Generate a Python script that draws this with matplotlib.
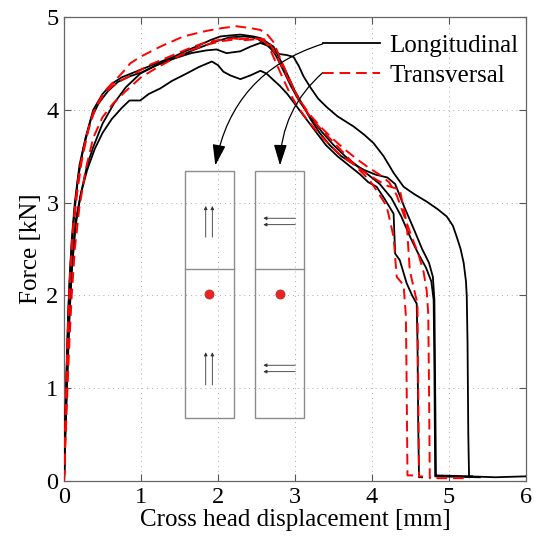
import numpy as np
import matplotlib
matplotlib.use("Agg")
import matplotlib.pyplot as plt
from matplotlib.patches import Rectangle, FancyArrowPatch

plt.rcParams['font.family'] = ['Liberation Serif', 'DejaVu Serif']

# force-displacement curves, longitudinal specimens
long_1 = [(0, 0), (0.02, 0.6), (0.04, 1.1), (0.07, 1.8), (0.1, 2.3), (0.15, 2.8), (0.22, 3.1),
          (0.3, 3.35), (0.4, 3.58), (0.5, 3.75), (0.62, 3.9), (0.75, 4.02), (0.85, 4.1),
          (0.99, 4.1), (1.1, 4.17), (1.25, 4.23), (1.4, 4.31), (1.59, 4.39), (1.75, 4.46),
          (1.92, 4.52), (2.0, 4.48), (2.07, 4.41), (2.16, 4.37), (2.29, 4.33), (2.42, 4.37),
          (2.55, 4.42), (2.63, 4.39), (2.72, 4.32), (2.8, 4.26), (2.9, 4.17), (3.0, 4.06),
          (3.1, 3.95), (3.2, 3.84), (3.3, 3.73), (3.4, 3.62), (3.55, 3.5), (3.7, 3.4),
          (3.85, 3.3), (3.95, 3.22), (4.06, 3.17), (4.17, 3.03), (4.28, 2.88), (4.30, 2.45),
          (4.36, 2.38), (4.45, 2.13), (4.52, 2.0), (4.58, 1.91), (4.59, 1.5), (4.60, 0.6),
          (4.61, 0.04), (4.65, 0.04)]
long_2 = [(0, 0), (0.02, 0.55), (0.04, 1.05), (0.07, 1.75), (0.1, 2.25), (0.15, 2.75), (0.22, 3.1),
          (0.3, 3.4), (0.38, 3.6), (0.5, 3.85), (0.65, 4.07), (0.8, 4.24), (0.99, 4.39),
          (1.2, 4.48), (1.42, 4.55), (1.65, 4.61), (1.85, 4.64), (1.98, 4.65), (2.11, 4.61),
          (2.29, 4.63), (2.42, 4.68), (2.55, 4.72), (2.68, 4.68), (2.76, 4.57), (2.85, 4.42),
          (2.95, 4.25), (3.05, 4.1), (3.2, 3.92), (3.35, 3.76), (3.5, 3.62), (3.65, 3.5),
          (3.8, 3.4), (3.95, 3.3), (4.1, 3.2), (4.25, 3.05), (4.38, 2.85), (4.5, 2.62),
          (4.6, 2.45), (4.7, 2.3), (4.77, 2.15), (4.8, 1.95), (4.81, 1.2), (4.82, 0.05),
          (5.4, 0.04)]
long_3 = [(0, 0), (0.015, 0.6), (0.03, 1.1), (0.05, 1.7), (0.07, 2.15), (0.1, 2.6), (0.14, 3.0),
          (0.2, 3.4), (0.28, 3.7), (0.38, 4.0), (0.5, 4.17), (0.62, 4.28), (0.75, 4.35),
          (0.9, 4.4), (1.05, 4.45), (1.2, 4.5), (1.42, 4.57), (1.6, 4.64), (1.77, 4.7),
          (1.9, 4.75), (2.03, 4.79), (2.15, 4.8), (2.29, 4.81), (2.46, 4.79), (2.56, 4.77),
          (2.63, 4.73), (2.72, 4.68), (2.8, 4.55), (2.9, 4.38), (3.0, 4.2), (3.1, 4.05),
          (3.2, 3.9), (3.32, 3.75), (3.45, 3.62), (3.6, 3.5), (3.75, 3.42), (3.9, 3.35),
          (4.05, 3.3), (4.2, 3.27), (4.3, 3.2), (4.42, 2.95), (4.55, 2.7), (4.65, 2.5),
          (4.74, 2.35), (4.79, 2.2), (4.81, 1.95), (4.82, 1.0), (4.83, 0.06), (5.3, 0.05)]
long_4 = [(0, 0), (0.02, 0.75), (0.04, 1.35), (0.06, 1.9), (0.09, 2.4), (0.13, 2.85), (0.18, 3.25),
          (0.25, 3.58), (0.35, 3.9), (0.45, 4.07), (0.57, 4.2), (0.7, 4.3), (0.85, 4.36),
          (1.0, 4.4), (1.2, 4.48), (1.45, 4.56), (1.7, 4.65), (1.95, 4.73), (2.15, 4.78),
          (2.35, 4.79), (2.5, 4.77), (2.63, 4.7), (2.72, 4.63), (2.8, 4.6), (2.89, 4.59),
          (2.98, 4.57), (3.05, 4.47), (3.11, 4.36), (3.2, 4.24), (3.3, 4.12), (3.41, 4.03),
          (3.55, 3.93), (3.76, 3.82), (3.9, 3.73), (4.02, 3.64), (4.15, 3.5), (4.28, 3.32),
          (4.41, 3.17), (4.55, 3.09), (4.71, 3.01), (4.85, 2.93), (4.97, 2.85), (5.05, 2.75),
          (5.1, 2.63), (5.15, 2.5), (5.19, 2.35), (5.22, 2.15), (5.23, 1.99), (5.24, 1.5),
          (5.25, 0.5), (5.26, 0.05), (5.6, 0.04), (6.0, 0.05)]

# force-displacement curves, transversal specimens
trans_1 = [(0, 0), (0.015, 0.5), (0.03, 1.0), (0.05, 1.6), (0.08, 2.2), (0.12, 2.7), (0.17, 3.1),
           (0.23, 3.45), (0.32, 3.8), (0.42, 4.05), (0.55, 4.22), (0.68, 4.33), (0.78, 4.42),
           (0.86, 4.5), (0.99, 4.57), (1.25, 4.68), (1.55, 4.79), (1.85, 4.85), (2.05, 4.88),
           (2.24, 4.9), (2.42, 4.88), (2.55, 4.86), (2.63, 4.82), (2.72, 4.73), (2.81, 4.55),
           (2.94, 4.3), (3.06, 4.09), (3.2, 3.92), (3.35, 3.78), (3.5, 3.65), (3.65, 3.52),
           (3.8, 3.38), (3.97, 3.24), (4.1, 3.08), (4.19, 2.96), (4.28, 2.63), (4.32, 2.2),
           (4.41, 2.11), (4.44, 1.77), (4.45, 1.0), (4.46, 0.06), (4.62, 0.06)]
trans_2 = [(0, 0), (0.015, 0.55), (0.03, 1.05), (0.05, 1.65), (0.075, 2.15), (0.1, 2.55),
           (0.14, 2.95), (0.2, 3.35), (0.28, 3.68), (0.38, 3.97), (0.5, 4.15), (0.62, 4.25),
           (0.75, 4.32), (0.9, 4.38), (1.1, 4.48), (1.42, 4.59), (1.65, 4.67), (1.85, 4.73),
           (2.0, 4.75), (2.2, 4.77), (2.35, 4.75), (2.5, 4.76), (2.6, 4.74), (2.66, 4.68),
           (2.73, 4.55), (2.82, 4.38), (2.92, 4.2), (3.02, 4.05), (3.15, 3.9), (3.3, 3.75),
           (3.45, 3.62), (3.6, 3.5), (3.75, 3.42), (3.9, 3.33), (4.05, 3.25), (4.2, 3.18),
           (4.36, 3.14), (4.45, 2.78), (4.49, 2.27), (4.55, 2.05), (4.59, 1.91), (4.6, 1.0),
           (4.61, 0.05), (4.66, 0.05)]
trans_3 = [(0, 0), (0.02, 0.45), (0.04, 0.9), (0.07, 1.5), (0.1, 2.0), (0.14, 2.5), (0.2, 2.95),
           (0.28, 3.35), (0.38, 3.7), (0.5, 3.92), (0.64, 4.07), (0.8, 4.2), (1.0, 4.35),
           (1.2, 4.45), (1.42, 4.55), (1.65, 4.64), (1.85, 4.7), (2.05, 4.74), (2.25, 4.76),
           (2.45, 4.77), (2.6, 4.76), (2.68, 4.7), (2.76, 4.58), (2.86, 4.42), (2.96, 4.25),
           (3.08, 4.08), (3.2, 3.94), (3.35, 3.8), (3.5, 3.68), (3.65, 3.57), (3.8, 3.47),
           (3.95, 3.38), (4.1, 3.3), (4.22, 3.22), (4.32, 3.08), (4.42, 2.85), (4.52, 2.62),
           (4.6, 2.45), (4.67, 2.25), (4.71, 2.05), (4.73, 1.8), (4.74, 1.0), (4.75, 0.03),
           (5.27, 0.03)]

longitudinal = [long_1, long_2, long_3, long_4]
transversal = [trans_1, trans_2, trans_3]

x_ticks = [0, 1, 2, 3, 4, 5, 6]
y_ticks = [0, 1, 2, 3, 4, 5]


def draw_specimen(ax, x0, x1, y0, y1, y_mid, dot, arrows):
    """Sketch of a specimen strip with hole and fibre direction arrows."""
    ax.add_patch(Rectangle((x0, y0), x1 - x0, y1 - y0, fill=False,
                           edgecolor='#8c8c8c', lw=1.0, zorder=4))
    ax.plot([x0, x1], [y_mid, y_mid], color='#8c8c8c', lw=1.0, zorder=4)
    ax.plot(dot[0], dot[1], 'o', ms=6.5, mfc='#ee2222', mec='#aa3333', mew=0.6, zorder=5)
    for (xa, ya, xb, yb) in arrows:
        ax.annotate('', xy=(xb, yb), xytext=(xa, ya),
                    arrowprops=dict(arrowstyle='-|>', lw=0.6, color='#333333',
                                    mutation_scale=5, shrinkA=0, shrinkB=0),
                    zorder=5)


fig = plt.figure(figsize=(5.34, 5.40), dpi=100)
ax = fig.add_axes([0.1199, 0.1093, 0.8652, 0.8593])

for i, c in enumerate(longitudinal):
    c = np.array(c)
    ax.plot(c[:, 0], c[:, 1], color='black', lw=1.3,
            label='Longitudinal' if i == 0 else None, zorder=3)
for i, c in enumerate(transversal):
    c = np.array(c)
    ax.plot(c[:, 0], c[:, 1], color='red', lw=1.4, dashes=(5.5, 3),
            label='Transversal' if i == 0 else None, zorder=3)

ax.set_xlim(0, 6)
ax.set_ylim(0, 5)
ax.set_xticks(x_ticks)
ax.set_yticks(y_ticks)
ax.tick_params(direction='in', top=True, right=True, labelsize=17.5, length=5,
               color='#555555', pad=4)
for s in ax.spines.values():
    s.set_color('#666666')
    s.set_linewidth(0.9)
ax.grid(True, color='#aaaaaa', lw=0.7, linestyle=(0, (1, 4)))
ax.set_xlabel('Cross head displacement [mm]', fontsize=18, labelpad=1)
ax.set_ylabel('Force [kN]', fontsize=18, labelpad=3)

leg = ax.legend(loc='upper left', bbox_to_anchor=(0.56, 0.962), frameon=False,
                fontsize=18, handlelength=2.3, handletextpad=0.35,
                labelspacing=0.3, borderpad=0, borderaxespad=0)

# specimen sketches: fibres along and across the loading direction
draw_specimen(ax, 1.571, 2.208, 0.682, 3.344, 2.281, (1.887, 2.015),
              [(1.840, 2.626, 1.840, 2.963), (1.926, 2.626, 1.926, 2.963),
               (1.840, 1.034, 1.840, 1.387), (1.926, 1.034, 1.926, 1.387)])
draw_specimen(ax, 2.485, 3.121, 0.682, 3.344, 2.281, (2.805, 2.015),
              [(3.004, 2.831, 2.588, 2.831), (3.004, 2.762, 2.588, 2.762),
               (3.004, 1.247, 2.588, 1.247), (3.004, 1.178, 2.588, 1.178)])

# pointers from the legend entries to the sketches
for (start, end, rad) in [((3.36, 4.71), (1.965, 3.40), 0.3),
                          ((3.36, 4.40), (2.805, 3.40), 0.22)]:
    ax.add_patch(FancyArrowPatch(start, end, connectionstyle='arc3,rad=%.2f' % rad,
                                 arrowstyle='-|>,head_length=0.8,head_width=0.25',
                                 mutation_scale=16, lw=0.9,
                                 color='black', shrinkA=0, shrinkB=0, zorder=5))

fig.savefig('out.png', dpi=100)
